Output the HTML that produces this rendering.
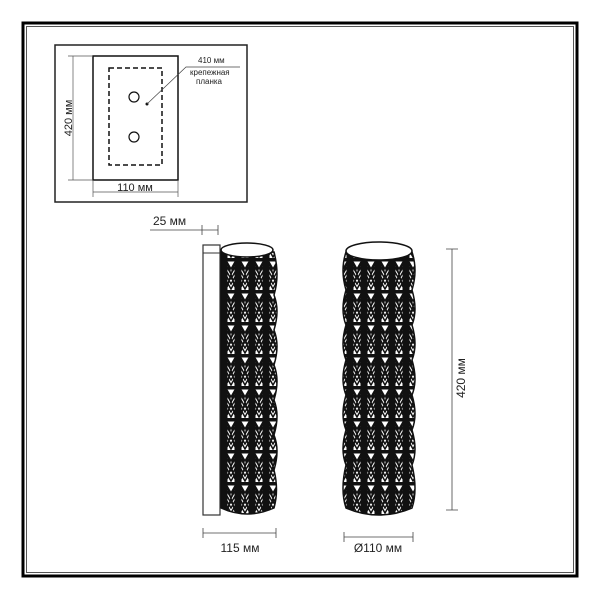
<!DOCTYPE html>
<html><head><meta charset="utf-8"><style>
html,body{margin:0;padding:0;background:#fff}
svg{display:block}
text{font-family:"Liberation Sans",sans-serif;fill:#222}
</style></head><body>
<svg width="600" height="600" viewBox="0 0 600 600">
<defs>
<pattern id="cr" x="0" y="258" width="14" height="32" patternUnits="userSpaceOnUse">
<rect width="14" height="32" fill="#fff"/>
<rect x="0" y="0" width="3.5" height="32" fill="#111"/>
<rect x="10.5" y="0" width="3.5" height="32" fill="#111"/>
<rect x="0" y="0" width="14" height="3.5" fill="#111"/>
<path d="M3 4 L7 11 L11 4 M3 9 L7 16 L11 9 M3 14 L7 21 L11 14 M3 19 L7 26 L11 19 M3 24 L7 31 L11 24 M3 4 L11 29 M11 4 L3 29" stroke="#111" stroke-width="1.5" fill="none"/>
</pattern>
</defs>
<rect x="23" y="23" width="554" height="553" fill="none" stroke="#000" stroke-width="3"/>
<rect x="26.5" y="26.5" width="547" height="546" fill="none" stroke="#555" stroke-width="1"/>

<rect x="55" y="45" width="192" height="157" fill="none" stroke="#222" stroke-width="1.5"/>
<rect x="93" y="56" width="85" height="124" fill="none" stroke="#111" stroke-width="1.5"/>
<rect x="109" y="68" width="53" height="97" fill="none" stroke="#111" stroke-width="1.5" stroke-dasharray="5,3"/>
<circle cx="134" cy="97" r="5" fill="none" stroke="#111" stroke-width="1.2"/>
<circle cx="134" cy="137" r="5" fill="none" stroke="#111" stroke-width="1.2"/>
<circle cx="147" cy="104" r="1.5" fill="#111"/>
<path d="M147 104 L186 67 L240 67" stroke="#444" stroke-width="0.7" fill="none"/>
<text x="198" y="63" font-size="8">410 мм</text>
<text x="190" y="75" font-size="8">крепежная</text>
<text x="196" y="84" font-size="8">планка</text>
<path d="M73 56 V180 M68 56 H93 M68 180 H93" stroke="#555" stroke-width="0.7" fill="none"/>
<text transform="translate(72,118) rotate(-90)" text-anchor="middle" font-size="11">420 мм</text>
<path d="M93 180 V197 M178 180 V197 M93 192 H178" stroke="#555" stroke-width="0.7" fill="none"/>
<text x="135" y="191" text-anchor="middle" font-size="11">110 мм</text>

<text x="153" y="225" font-size="12">25 мм</text>
<path d="M150 230 H218 M202 225 V235 M218 225 V235" stroke="#444" stroke-width="0.8" fill="none"/>

<rect x="203" y="245" width="17" height="270" fill="#fff" stroke="#333" stroke-width="1.2"/>
<line x1="203" y1="253" x2="220" y2="253" stroke="#333" stroke-width="1"/>
<path d="M221 252 L221 508 Q247 520 274 508 Q279 490 274 470 Q280 450 274 435 Q280 415 274 400 Q280 380 274 365 Q280 345 274 330 Q280 310 274 295 Q280 275 274 252 Z" fill="url(#cr)" stroke="#111" stroke-width="1.5"/>
<ellipse cx="247" cy="250" rx="26" ry="7" fill="#fff" stroke="#111" stroke-width="1.5"/>

<path d="M346 252 Q340 270 346 290 Q340 310 346 325 Q340 345 346 360 Q340 380 346 395 Q340 415 346 430 Q340 450 346 465 Q340 490 346 508 Q379 522 412 508 Q418 490 412 465 Q418 450 412 430 Q418 415 412 395 Q418 380 412 360 Q418 345 412 325 Q418 310 412 290 Q418 270 412 252 Z" fill="url(#cr)" stroke="#111" stroke-width="1.5"/>
<ellipse cx="379" cy="251" rx="33" ry="9" fill="#fff" stroke="#111" stroke-width="1.5"/>

<path d="M452 249 V510 M446 249 H458 M446 510 H458" stroke="#444" stroke-width="0.8" fill="none"/>
<text transform="translate(465,378) rotate(-90)" text-anchor="middle" font-size="12">420 мм</text>

<path d="M203 533 H276 M203 528 V538 M276 528 V538" stroke="#444" stroke-width="0.8" fill="none"/>
<text x="240" y="552" text-anchor="middle" font-size="12">115 мм</text>
<path d="M344 537 H413 M344 532 V542 M413 532 V542" stroke="#444" stroke-width="0.8" fill="none"/>
<text x="378" y="552" text-anchor="middle" font-size="12">Ø110 мм</text>
</svg>
</body></html>
